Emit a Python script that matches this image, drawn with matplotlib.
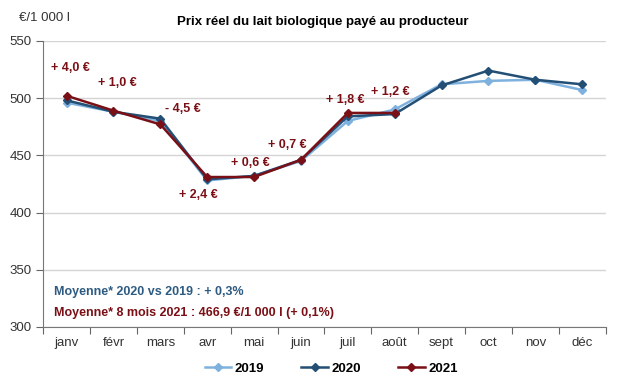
import matplotlib.pyplot as plt
import numpy as np

plt.rcParams['font.family'] = ['Liberation Sans', 'DejaVu Sans']

mois = ['janv', 'févr', 'mars', 'avr', 'mai', 'juin', 'juil', 'août', 'sept', 'oct', 'nov', 'déc']
prix_2019 = [496, 488, 480, 428, 432, 445, 480, 490, 512, 515, 516, 507]
prix_2020 = [498, 488, 482, 429, 432, 446, 484, 486, 511, 524, 516, 512]
prix_2021 = [502, 489, 477, 431, 431, 446, 487, 487]
ecarts = ['+ 4,0 €', '+ 1,0 €', '- 4,5 €', '+ 2,4 €', '+ 0,6 €', '+ 0,7 €', '+ 1,8 €', '+ 1,2 €']
# text offsets (points) of each gap label relative to its 2021 point
decal = [(3, 20), (3, 20), (16, 11), (-6, -13), (-3, 10), (-10, 10.5), (-2, 9), (-3, 15)]

c19 = '#7fb1de'
c20 = '#234f75'
c21 = '#7a1016'

fig = plt.figure(figsize=(6.25, 3.78), dpi=100)
ax = fig.add_axes([0.069, 0.135, 0.9, 0.757])

x = np.arange(len(mois))
ax.plot(x, prix_2019, color=c19, marker='D', markersize=4.5, lw=1.8, label='2019')
ax.plot(x, prix_2020, color=c20, marker='D', markersize=4.5, lw=1.8, label='2020')
ax.plot(x[:len(prix_2021)], prix_2021, color=c21, marker='D', markersize=4.5, lw=1.8, label='2021')

for i, (t, d) in enumerate(zip(ecarts, decal)):
    ax.annotate(t, (x[i], prix_2021[i]), xytext=d, textcoords='offset points',
                ha='center', va='center', color=c21, fontsize=9, fontweight='bold')

ax.set_xlim(-0.5, 11.5)
ax.set_ylim(300, 550)
ax.set_yticks(range(300, 551, 50))
ax.set_xticks(np.arange(-0.5, 12, 1))
ax.set_xticklabels([])
ax.set_xticks(x, minor=True)
ax.set_xticklabels(mois, minor=True, fontsize=9.5, color='#333333')
ax.tick_params(axis='x', which='major', length=5, color='#666666', direction='out')
ax.tick_params(axis='x', which='minor', length=0, pad=7)
ax.tick_params(axis='y', length=5, color='#666666', labelsize=9.5, labelcolor='#333333')
ax.grid(axis='y', color='#d4d4d4', lw=1)
ax.set_axisbelow(True)
for s in ['top', 'right']:
    ax.spines[s].set_visible(False)
ax.spines['left'].set_color('#777777')
ax.spines['bottom'].set_color('#777777')

ax.text(0.02, 0.122, 'Moyenne* 2020 vs 2019 : + 0,3%', transform=ax.transAxes,
        color='#2e5b82', fontsize=9, fontweight='bold', va='center')
ax.text(0.02, 0.049, 'Moyenne* 8 mois 2021 : 466,9 €/1 000 l (+ 0,1%)', transform=ax.transAxes,
        color=c21, fontsize=9, fontweight='bold', va='center')

fig.text(0.517, 0.942, 'Prix réel du lait biologique payé au producteur', ha='center',
         va='center', fontsize=9.5, fontweight='bold')
fig.text(0.03, 0.952, '€/1 000 l', ha='left', va='center', fontsize=9.5, color='#333333')

fig.legend(loc='center', bbox_to_anchor=(0.53, 0.025), ncol=3, frameon=False,
           prop={'weight': 'bold', 'size': 9.5}, handlelength=2.0,
           columnspacing=2.8, handletextpad=0.3)

fig.savefig('out.png', dpi=100)
